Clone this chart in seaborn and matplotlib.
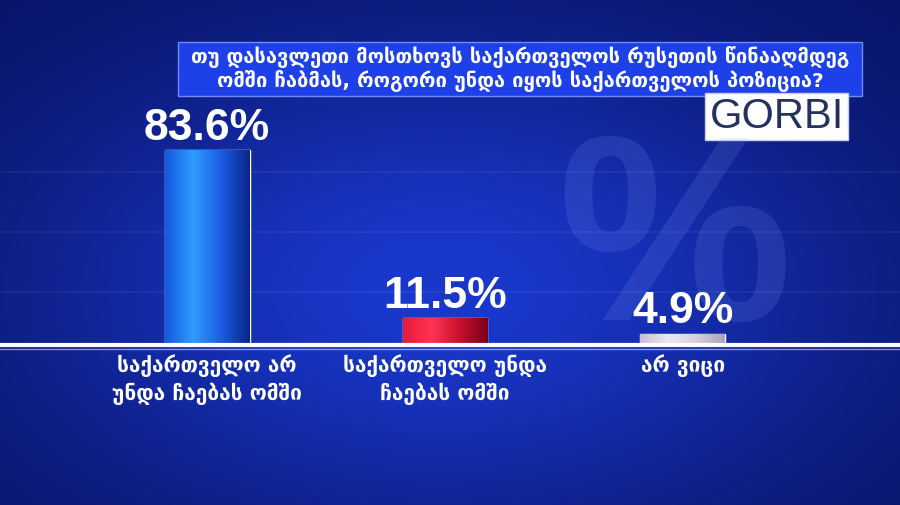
import numpy as np
import pandas as pd
import seaborn as sns
import matplotlib.pyplot as plt
from matplotlib.colors import LinearSegmentedColormap
from matplotlib.patches import Rectangle

# data (GORBI poll)
question = ("თუ დასავლეთი მოსთხოვს საქართველოს რუსეთის წინააღმდეგ\n"
            "ომში ჩაბმას, როგორი უნდა იყოს საქართველოს პოზიცია?")
answers = ["საქართველო არ\nუნდა ჩაებას ომში", "საქართველო უნდა\nჩაებას ომში", "არ ვიცი"]
shares = [83.6, 11.5, 4.9]
share_labels = ["83.6%", "11.5%", "4.9%"]

df = pd.DataFrame({"answer": answers, "share": shares})

sns.set_theme(style="white")
plt.rcParams['font.family'] = ['DejaVu Sans']

W, H = 900, 505
fig = plt.figure(figsize=(9, 5.05), dpi=100)

# background glow
bg = fig.add_axes([0, 0, 1, 1])
yy, xx = np.mgrid[0:H, 0:W]
glow = np.exp(-(((xx - 440) / 430) ** 2 + ((yy - 290) / 250) ** 2))
dark = np.array([0.03, 0.07, 0.38])
light = np.array([0.10, 0.22, 0.80])
img = dark + (light - dark) * glow[..., None]
bg.imshow(np.clip(img, 0, 1), extent=[0, W, H, 0], aspect='auto')
for ly in [172, 232, 292]:
    bg.axhline(ly, color='white', alpha=0.05, lw=1.5)
bg.text(675, 252, "%", fontsize=190, fontweight='bold', family='Liberation Sans',
        color='#8aa2ff', alpha=0.15, ha='center', va='center')
bg.set_xlim(0, W)
bg.set_ylim(H, 0)
bg.axis('off')

# question box
bg.add_patch(Rectangle((178, 42), 684, 54, facecolor='#1d40e8', edgecolor='#6d8cff', lw=1))
bg.text(520, 69, question, color='white', fontsize=14.5, fontweight='bold',
        ha='center', va='center', linespacing=1.1)

# logo
bg.add_patch(Rectangle((705, 93), 143, 47, facecolor='white', edgecolor='#c8d0e8', lw=1))
bg.text(777, 117, "GORBI", color='#25325e', fontsize=30, family='Liberation Sans',
        ha='center', va='center')

# bars
ax = fig.add_axes([0, 1 - 345 / H, 1, 233 / H])
ax.patch.set_alpha(0)
sns.barplot(data=df, x='answer', y='share', hue='answer', legend=False, ax=ax,
            width=0.357, palette=['#1a66ee', '#ee1c3c', '#d4cde0'], saturation=1)

grads = [
    ['#1458e0', '#2f9cff', '#1a5ce0', '#0a2488'],
    ['#e81838', '#ff3552', '#c8102c', '#7a0018'],
    ['#c6bfd2', '#ece8f2', '#d6d0e0', '#aaa2bc'],
]
for patch, cols in zip(ax.patches, grads):
    x0, w, h = patch.get_x(), patch.get_width(), patch.get_height()
    cmap = LinearSegmentedColormap.from_list('g', cols)
    im = ax.imshow(np.linspace(0, 1, 256)[None, :], cmap=cmap, aspect='auto',
                   extent=[x0, x0 + w, 0, h], zorder=3)
    im.set_clip_path(patch)

for cont, lab in zip(ax.containers, share_labels):
    ax.bar_label(cont, labels=[lab], padding=1, color='white', fontsize=32,
                 fontweight='bold', family='Liberation Sans')

ax.set_xlim(-0.870, 2.912)
ax.set_ylim(0, 100)
ax.axhline(0, color='white', lw=3, clip_on=False, zorder=5)
ax.axhline(-1.8, color='white', lw=1, alpha=0.5, clip_on=False, zorder=5)
ax.set_xticks(range(3))
ax.set_xticklabels(answers, color='white', fontsize=15, fontweight='bold', linespacing=1.3)
ax.tick_params(axis='x', length=0, pad=7)
ax.set_yticks([])
ax.set_xlabel('')
ax.set_ylabel('')
sns.despine(ax=ax, left=True, bottom=True)

fig.savefig('out.png', dpi=100)
